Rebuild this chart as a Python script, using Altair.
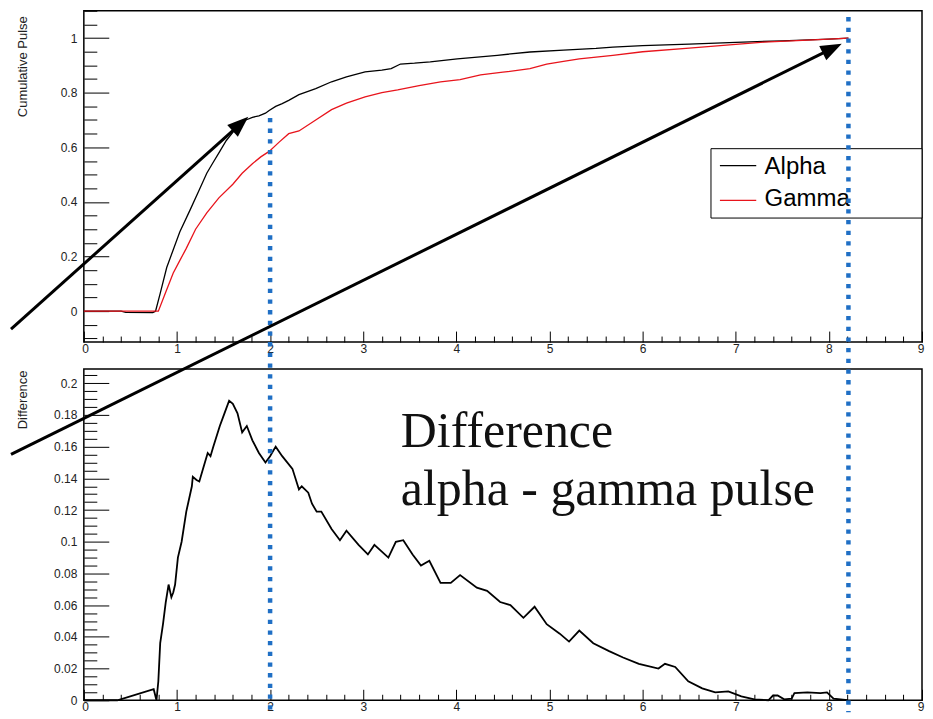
import altair as alt
import pandas as pd

# ---------------- data ----------------
alpha_x = [0.0, 0.40, 0.45, 0.74, 0.77, 0.82, 0.89, 0.96, 1.03, 1.14, 1.24, 1.32, 1.38, 1.46,
           1.53, 1.60, 1.67, 1.74, 1.81, 1.88, 1.95, 1.99, 2.06, 2.13, 2.20, 2.31, 2.49, 2.66,
           2.82, 3.02, 3.20, 3.30, 3.40, 3.55, 3.72, 4.01, 4.44, 4.79, 5.15, 5.50, 5.68, 6.00,
           6.50, 7.00, 7.50, 8.00, 8.21]
alpha_y = [0.0, 0.0, -0.004, -0.005, 0.0, 0.065, 0.16, 0.225, 0.29, 0.37, 0.445, 0.505, 0.54,
           0.585, 0.625, 0.655, 0.685, 0.70, 0.71, 0.715, 0.725, 0.735, 0.75, 0.76, 0.772,
           0.793, 0.815, 0.84, 0.858, 0.876, 0.883, 0.888, 0.905, 0.908, 0.913, 0.924, 0.937,
           0.949, 0.956, 0.962, 0.967, 0.972, 0.978, 0.984, 0.990, 0.996, 1.0]

gamma_x = [0.0, 0.78, 0.80, 0.88, 0.96, 1.03, 1.10, 1.20, 1.32, 1.45, 1.60, 1.70, 1.81, 1.90,
           1.99, 2.10, 2.20, 2.31, 2.49, 2.66, 2.82, 3.02, 3.20, 3.37, 3.60, 3.83, 4.04, 4.26,
           4.50, 4.79, 4.97, 5.15, 5.32, 5.50, 5.68, 6.00, 6.50, 7.00, 7.30, 7.60, 8.00, 8.21]
gamma_y = [0.0, 0.0, 0.0, 0.07, 0.14, 0.185, 0.23, 0.30, 0.36, 0.415, 0.465, 0.505, 0.54, 0.565,
           0.585, 0.62, 0.65, 0.66, 0.70, 0.738, 0.762, 0.785, 0.80, 0.81, 0.826, 0.84, 0.848,
           0.865, 0.875, 0.888, 0.905, 0.915, 0.924, 0.93, 0.937, 0.95, 0.963, 0.977, 0.985,
           0.99, 0.996, 1.0]

diff_x = [0.0, 0.36, 0.75, 0.78, 0.80, 0.82, 0.85, 0.88, 0.91, 0.94, 0.96, 0.98, 1.01, 1.05,
          1.10, 1.16, 1.17, 1.21, 1.24, 1.28, 1.33, 1.36, 1.39, 1.46, 1.51, 1.56, 1.60, 1.65,
          1.70, 1.75, 1.81, 1.88, 1.95, 2.00, 2.06, 2.13, 2.24, 2.31, 2.34, 2.41, 2.45, 2.50,
          2.55, 2.66, 2.75, 2.82, 2.95, 3.05, 3.12, 3.27, 3.35, 3.43, 3.53, 3.62, 3.71, 3.83,
          3.94, 4.04, 4.22, 4.33, 4.47, 4.58, 4.72, 4.84, 4.97, 5.11, 5.21, 5.32, 5.47, 5.64,
          5.79, 5.96, 6.17, 6.24, 6.35, 6.49, 6.64, 6.78, 6.92, 7.06, 7.20, 7.35, 7.40, 7.45,
          7.52, 7.60, 7.63, 7.77, 7.91, 7.98, 8.05, 8.20]
diff_y = [0.0, 0.0, 0.007, 0.0, 0.012, 0.036, 0.048, 0.062, 0.073, 0.065, 0.068, 0.073, 0.09,
          0.10, 0.119, 0.135, 0.141, 0.139, 0.138, 0.146, 0.156, 0.154, 0.16, 0.173, 0.181,
          0.189, 0.187, 0.181, 0.169, 0.173, 0.164, 0.156, 0.150, 0.154, 0.16, 0.154, 0.146,
          0.133, 0.135, 0.131, 0.124, 0.119, 0.119, 0.108, 0.101, 0.107, 0.098, 0.092, 0.098,
          0.09, 0.100, 0.101, 0.092, 0.085, 0.088, 0.074, 0.074, 0.079, 0.071, 0.069, 0.062,
          0.060, 0.052, 0.059, 0.048, 0.042, 0.037, 0.044, 0.036, 0.031, 0.027, 0.023, 0.020,
          0.023, 0.021, 0.012, 0.0075, 0.005, 0.0056, 0.0025, 0.0006, 0.0, 0.003, 0.003,
          0.0006, 0.001, 0.0045, 0.005, 0.0045, 0.005, 0.001, 0.0]

# axis ticks / labels
x_major = [0, 1, 2, 3, 4, 5, 6, 7, 8, 9]
x_minor = [round(0.2 * i, 1) for i in range(46) if i % 5 != 0]
top_y_major = [0, 0.2, 0.4, 0.6, 0.8, 1.0]
top_y_minor = [round(-0.1 + 0.05 * i, 2) for i in range(25) if (i - 2) % 4 != 0]
bot_y_major = [round(0.02 * i, 2) for i in range(11)]
bot_y_minor = [round(0.005 * i, 3) for i in range(42) if i % 4 != 0]

# legend / annotations (in data units)
legend_labels = ["Alpha", "Gamma"]
legend_colors = ["#000000", "#e8141c"]
legend_box = {"x": [6.734], "x2": [9.0], "y": [0.595], "y2": [0.341]}
legend_line_x = [6.83, 7.22]
legend_line_y = [0.533, 0.406]
legend_text_x = [7.31, 7.31]
legend_text_y = [0.504, 0.384]

note_lines = ["Difference", "alpha - gamma pulse"]
note_x = [3.404, 3.404]
note_y = [0.1597, 0.1229]

marker_x = [2.0, 8.21]
marker_top = [0.3674, 0.431]
marker_bottom = [-0.0075, -0.0075]

arrow_x = [-0.782, -0.782]
arrow_y = [0.2342, 0.1551]
arrow_x2 = [1.687, 8.043]
arrow_y2 = [0.3639, 0.4114]
head_x = [1.766, 8.138]
head_y = [0.3681, 0.4142]
head_angle = [48.1, 63.65]

# ---------------- chart ----------------
W, H_TOP, H_BOT = 840, 332, 332
LBL_FONT = "Liberation Sans Narrow, Liberation Sans, Arial"
TTL_FONT = "Liberation Sans, Arial"

xs = alt.Scale(domain=[0, 9], nice=False, zero=False)
ys_top = alt.Scale(domain=[-0.113, 1.1], nice=False, zero=False)
ys_bot = alt.Scale(domain=[0, 0.209], nice=False, zero=False)


def x_label_axis():
    return alt.Axis(orient="bottom", values=x_major, ticks=False, tickSize=0, domain=False,
                    grid=False, labelPadding=1, labelFont=LBL_FONT, labelFontSize=12,
                    labelColor="#222", title=None, format="~g", labelFlush=True,
                    labelFlushOffset=2)


def x_tick_axis(values, size):
    return alt.Axis(orient="bottom", offset=-size, values=values, labels=False, domain=False,
                    grid=False, title=None, tickColor="black", tickWidth=1, tickSize=size)


def y_label_axis(values, title, title_y):
    return alt.Axis(orient="left", values=values, ticks=False, tickSize=0, domain=False,
                    grid=False, labelPadding=7, labelFont=LBL_FONT, labelFontSize=12,
                    labelColor="#222", format="~g", labelFlush=False,
                    title=title, titleFont=TTL_FONT, titleFontSize=13, titleFontWeight="normal",
                    titleColor="#222", titleAngle=270, titleAlign="right", titleBaseline="middle",
                    titleX=-61, titleY=title_y)


def y_tick_axis(values, size):
    return alt.Axis(orient="left", offset=-size, values=values, labels=False, domain=False,
                    grid=False, title=None, tickColor="black", tickWidth=1, tickSize=size)


alpha_df = pd.DataFrame({"x": alpha_x, "y": alpha_y})
gamma_df = pd.DataFrame({"x": gamma_x, "y": gamma_y})
diff_df = pd.DataFrame({"x": diff_x, "y": diff_y})

alpha_line = alt.Chart(alpha_df).mark_line(color="black", strokeWidth=1.3).encode(
    x=alt.X("x:Q", scale=xs, axis=x_label_axis()),
    y=alt.Y("y:Q", scale=ys_top, axis=y_label_axis(top_y_major, "Cumulative Pulse", 5)),
)
gamma_line = alt.Chart(gamma_df).mark_line(color=legend_colors[1], strokeWidth=1.3).encode(
    x=alt.X("x:Q", scale=xs, axis=x_tick_axis(x_major, 11)),
    y=alt.Y("y:Q", scale=ys_top, axis=y_tick_axis(top_y_major, 25)),
)

box_df = pd.DataFrame(legend_box)
leg_box = alt.Chart(box_df).mark_rect(fill="white", stroke="black", strokeWidth=1).encode(
    x=alt.X("x:Q", scale=xs, axis=x_tick_axis(x_minor, 6)), x2="x2:Q",
    y=alt.Y("y:Q", scale=ys_top, axis=y_tick_axis(top_y_minor, 13)), y2="y2:Q",
)
leg_df = pd.DataFrame({
    "series": legend_labels,
    "x": [legend_line_x[0]] * 2, "x2": [legend_line_x[1]] * 2,
    "y": legend_line_y, "tx": legend_text_x, "ty": legend_text_y,
})
color_scale = alt.Scale(domain=legend_labels, range=legend_colors)
leg_lines = alt.Chart(leg_df).mark_rule(strokeWidth=1.3).encode(
    x=alt.X("x:Q", scale=xs, axis=None), x2="x2:Q",
    y=alt.Y("y:Q", scale=ys_top, axis=None),
    color=alt.Color("series:N", scale=color_scale, legend=None),
)
leg_text = alt.Chart(leg_df).mark_text(align="left", baseline="alphabetic", font=TTL_FONT,
                                       fontSize=24, color="black").encode(
    x=alt.X("tx:Q", scale=xs, axis=None),
    y=alt.Y("ty:Q", scale=ys_top, axis=None),
    text="series:N",
)

top = alt.layer(alpha_line, gamma_line, leg_box, leg_lines, leg_text).resolve_axis(
    x="independent", y="independent").properties(width=W, height=H_TOP)

diff_line = alt.Chart(diff_df).mark_line(color="black", strokeWidth=1.8).encode(
    x=alt.X("x:Q", scale=xs, axis=x_label_axis()),
    y=alt.Y("y:Q", scale=ys_bot, axis=y_label_axis(bot_y_major, "Difference", 1)),
)
note_df = pd.DataFrame({"x": note_x, "y": note_y, "t": note_lines})
note = alt.Chart(note_df).mark_text(align="left", baseline="alphabetic",
                                    font="Liberation Serif, Times New Roman, serif",
                                    fontSize=50, color="#111").encode(
    x=alt.X("x:Q", scale=xs, axis=x_tick_axis(x_major, 11)),
    y=alt.Y("y:Q", scale=ys_bot, axis=y_tick_axis(bot_y_major, 25)),
    text="t:N",
)
marker_df = pd.DataFrame({"x": marker_x, "y": marker_top, "y2": marker_bottom})
markers = alt.Chart(marker_df).mark_rule(color="#1f6fc5", strokeWidth=4.5,
                                         strokeDash=[4.3, 6.4], strokeCap="butt").encode(
    x=alt.X("x:Q", scale=xs, axis=x_tick_axis(x_minor, 6)),
    y=alt.Y("y:Q", scale=ys_bot, axis=y_tick_axis(bot_y_minor, 13)), y2="y2:Q",
)
arrow_df = pd.DataFrame({"x": arrow_x, "y": arrow_y, "x2": arrow_x2, "y2": arrow_y2})
arrows = alt.Chart(arrow_df).mark_rule(color="black", strokeWidth=3, strokeCap="butt").encode(
    x=alt.X("x:Q", scale=xs, axis=None), x2="x2:Q",
    y=alt.Y("y:Q", scale=ys_bot, axis=None), y2="y2:Q",
)
head_df = pd.DataFrame({"x": head_x, "y": head_y, "a": head_angle})
heads = alt.Chart(head_df).mark_point(shape="M0,0L-0.75,2L0.75,2Z", filled=True, size=450,
                                      color="black", opacity=1).encode(
    x=alt.X("x:Q", scale=xs, axis=None),
    y=alt.Y("y:Q", scale=ys_bot, axis=None),
    angle=alt.Angle("a:Q", scale=None),
)

bottom = alt.layer(diff_line, note, markers, arrows, heads).resolve_axis(
    x="independent", y="independent").properties(width=W, height=H_BOT)

chart = alt.vconcat(top, bottom, spacing=27, bounds="flush").properties(
    padding=0, background="white"
).configure_view(stroke="black", strokeWidth=1.5)

chart.save("out.html", embed_options={"renderer": "svg", "actions": False})
